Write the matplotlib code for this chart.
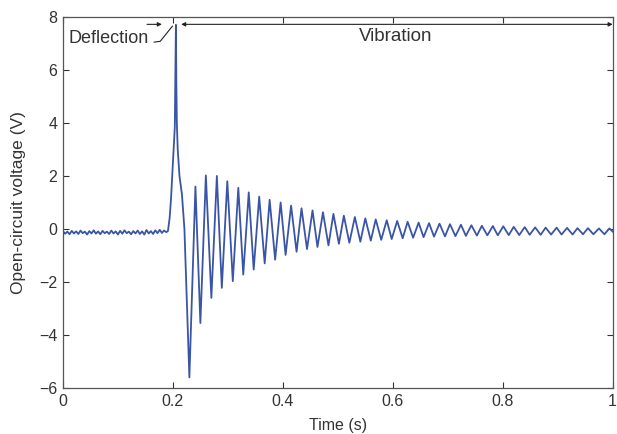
import numpy as np
import matplotlib
matplotlib.use("Agg")
import matplotlib.pyplot as plt

# ---- data ----
# pre-impact baseline (noisy, around -0.1 V)
base_t = [0.000, 0.004, 0.008, 0.012, 0.016, 0.020, 0.024, 0.028, 0.032, 0.036,
          0.040, 0.044, 0.048, 0.052, 0.056, 0.060, 0.064, 0.068, 0.072, 0.076,
          0.080, 0.084, 0.088, 0.092, 0.096, 0.100, 0.104, 0.108, 0.112, 0.116,
          0.120, 0.124, 0.128, 0.132, 0.136, 0.140, 0.144, 0.148, 0.152, 0.156,
          0.160, 0.164, 0.168, 0.172, 0.176, 0.180, 0.184, 0.188, 0.191]
base_v = [-0.08, -0.18, -0.10, -0.20, -0.07, -0.17, -0.09, -0.19, -0.06, -0.16,
          -0.10, -0.21, -0.08, -0.17, -0.05, -0.18, -0.09, -0.20, -0.07, -0.16,
          -0.10, -0.19, -0.06, -0.17, -0.09, -0.21, -0.07, -0.18, -0.05, -0.16,
          -0.10, -0.20, -0.08, -0.17, -0.06, -0.19, -0.09, -0.21, -0.04, -0.17,
          -0.08, -0.19, -0.05, -0.16, -0.03, -0.15, -0.06, -0.12, -0.08]

# deflection spike
spike_t = [0.1940, 0.1965, 0.2035, 0.2055, 0.2063, 0.2072, 0.2088, 0.2120, 0.2165, 0.2210]
spike_v = [0.40, 1.10, 3.85, 7.70, 5.50, 4.00, 3.00, 2.00, 1.30, 0.00]

# free vibration: peaks
peak_t = [0.241, 0.260, 0.280, 0.299, 0.319, 0.338, 0.357, 0.376, 0.396, 0.415,
          0.434, 0.454, 0.473, 0.492, 0.511, 0.531, 0.550, 0.569, 0.589, 0.608,
          0.627, 0.647, 0.666, 0.685, 0.704, 0.724, 0.743, 0.762, 0.782, 0.801,
          0.820, 0.840, 0.859, 0.878, 0.898, 0.917, 0.936, 0.955, 0.975, 0.994]
peak_v = [1.60, 2.02, 2.00, 1.80, 1.55, 1.38, 1.22, 1.10, 1.00, 0.88,
          0.78, 0.70, 0.63, 0.57, 0.50, 0.45, 0.40, 0.36, 0.33, 0.30,
          0.27, 0.24, 0.22, 0.20, 0.18, 0.16, 0.14, 0.12, 0.11, 0.10,
          0.08, 0.07, 0.06, 0.05, 0.05, 0.04, 0.03, 0.03, 0.02, 0.02]

# free vibration: troughs
trough_t = [0.230, 0.250, 0.270, 0.289, 0.309, 0.328, 0.347, 0.367, 0.386, 0.405,
            0.425, 0.444, 0.463, 0.483, 0.502, 0.521, 0.541, 0.560, 0.579, 0.598,
            0.618, 0.637, 0.656, 0.675, 0.695, 0.714, 0.733, 0.753, 0.772, 0.791,
            0.811, 0.830, 0.849, 0.869, 0.888, 0.907, 0.927, 0.946, 0.965, 0.985]
trough_v = [-5.60, -3.55, -2.60, -2.22, -1.97, -1.72, -1.53, -1.30, -1.16, -0.98,
            -0.86, -0.76, -0.68, -0.62, -0.56, -0.52, -0.48, -0.44, -0.41, -0.38,
            -0.35, -0.33, -0.31, -0.29, -0.28, -0.27, -0.26, -0.25, -0.24, -0.24,
            -0.23, -0.23, -0.22, -0.22, -0.21, -0.21, -0.21, -0.20, -0.20, -0.20]

end_t = [1.000]
end_v = [-0.10]

x_ticks = [0, 0.2, 0.4, 0.6, 0.8, 1]
x_labels = ["0", "0.2", "0.4", "0.6", "0.8", "1"]
y_ticks = [-6, -4, -2, 0, 2, 4, 6, 8]

# ---- assemble ----
vib_t = np.array(peak_t + trough_t)
vib_v = np.array(peak_v + trough_v)
order = np.argsort(vib_t)
t = np.concatenate([base_t, spike_t, vib_t[order], end_t])
v = np.concatenate([base_v, spike_v, vib_v[order], end_v])

plt.rcParams['font.family'] = ['Liberation Sans', 'DejaVu Sans']
fig = plt.figure(figsize=(6.17, 4.34), dpi=100)
ax = fig.add_axes([0.102, 0.106, 0.891, 0.855])

ax.plot(t, v, color='#3a55a6', lw=1.3)

ax.set_xlim(0, 1)
ax.set_ylim(-6, 8)
ax.set_xticks(x_ticks)
ax.set_xticklabels(x_labels)
ax.set_yticks(y_ticks)
ax.tick_params(direction='in', top=True, right=True, length=4, width=0.8,
               labelsize=11.5, colors='#333333', pad=4)
for s in ax.spines.values():
    s.set_color('#555555')
    s.set_linewidth(0.9)

ax.set_xlabel('Time (s)', fontsize=11.5, color='#333333')
ax.set_ylabel('Open-circuit voltage (V)', fontsize=12.5, color='#333333')
ax.xaxis.set_label_coords(0.5, -0.081)
ax.yaxis.set_label_coords(-0.068, 0.5)

# annotations
yarr = 7.72
ax.annotate('', xy=(0.180, yarr), xytext=(0.153, yarr),
            arrowprops=dict(arrowstyle='-|>', lw=0.8, color='#222222',
                            mutation_scale=6, shrinkA=0, shrinkB=0))
ax.annotate('', xy=(0.215, yarr), xytext=(1.0, yarr),
            arrowprops=dict(arrowstyle='<|-|>', lw=0.8, color='#222222',
                            mutation_scale=6, shrinkA=0, shrinkB=0))
ax.plot([0.166, 0.177, 0.199], [7.05, 7.08, 7.65], color='#222222', lw=0.8)
ax.text(0.011, 7.2, 'Deflection', fontsize=13, color='#333333', va='center', ha='left')
ax.text(0.605, 7.25, 'Vibration', fontsize=13.5, color='#333333', va='center', ha='center')

fig.savefig('out.png', dpi=100)
